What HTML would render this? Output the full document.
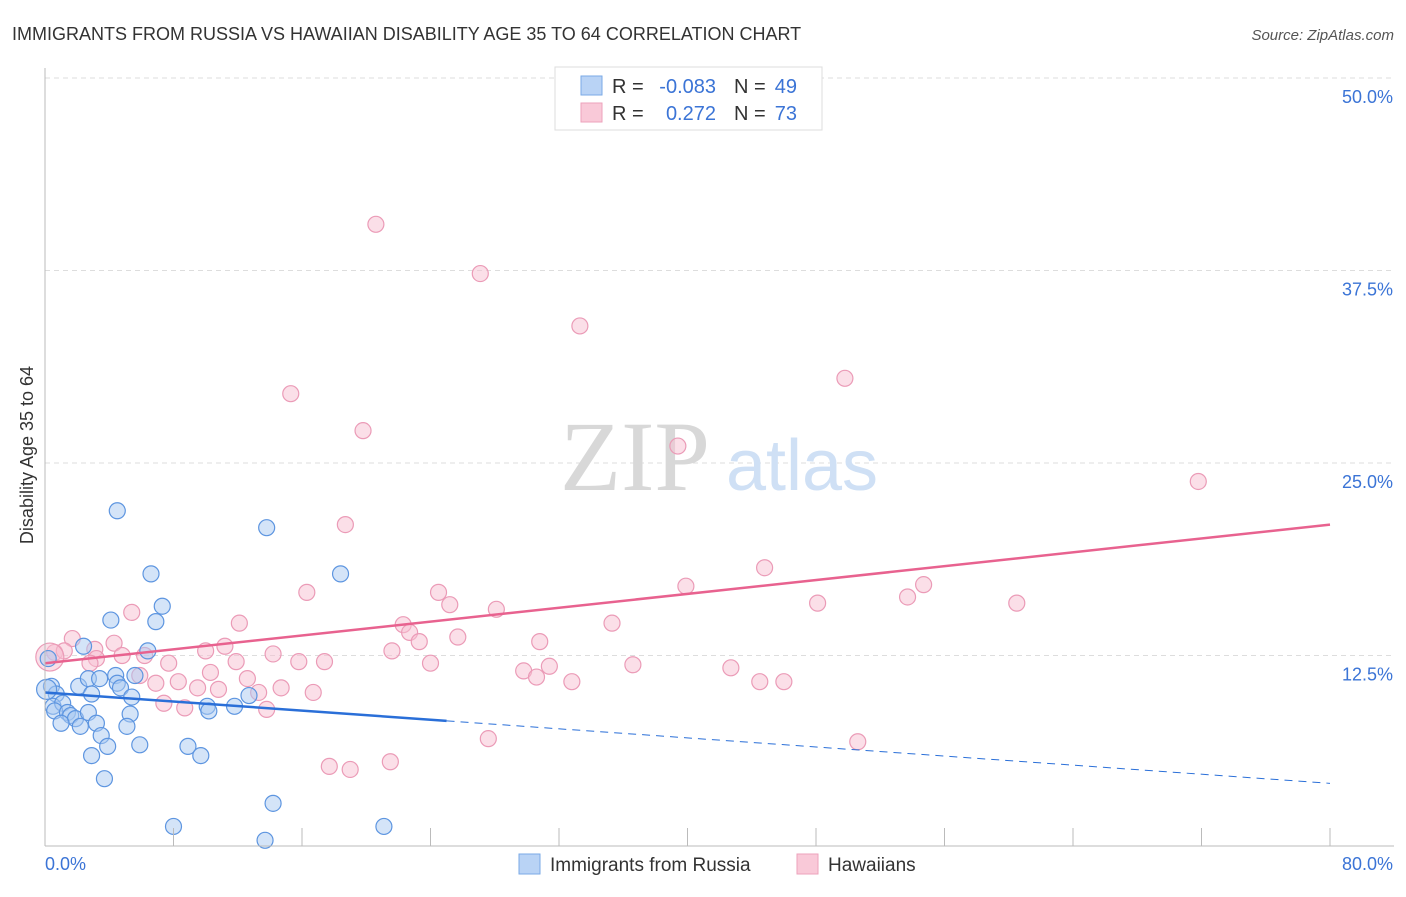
<!DOCTYPE html>
<html><head><meta charset="utf-8"><style>
body{margin:0;background:#fff;font-family:"Liberation Sans",sans-serif;}
svg text{font-family:"Liberation Sans",sans-serif;}
</style></head><body>
<svg id="chart" width="1406" height="892" xmlns="http://www.w3.org/2000/svg">
<text x="12" y="40" font-size="18" fill="#333">IMMIGRANTS FROM RUSSIA VS HAWAIIAN DISABILITY AGE 35 TO 64 CORRELATION CHART</text>
<text x="1394" y="40" font-size="15" fill="#555" font-style="italic" text-anchor="end">Source: ZipAtlas.com</text>
<text transform="translate(33,455) rotate(-90)" font-size="18" fill="#333" text-anchor="middle">Disability Age 35 to 64</text>
<g id="grid"></g>
<g>
<text x="635" y="490" font-size="100" fill="#d8d8d8" text-anchor="middle" style="font-family:'Liberation Serif',serif">ZIP</text>
<text x="802" y="490" font-size="72" fill="#cfe0f5" text-anchor="middle">atlas</text>
</g>
<g id="pts"></g>
<g id="lines"></g>
<g id="axes"></g>
<g>
<rect x="555" y="67" width="267" height="63" fill="#fff" stroke="#ddd"/>
<rect x="581" y="76" width="21" height="19" fill="#b9d3f5" stroke="#7aa9e6"/>
<rect x="581" y="103" width="21" height="19" fill="#f9c9d8" stroke="#eda2bb"/>
<text x="612" y="93" font-size="20" fill="#333">R =</text>
<text x="716" y="93" font-size="20" fill="#3b74d6" text-anchor="end">-0.083</text>
<text x="734" y="93" font-size="20" fill="#333">N =</text>
<text x="797" y="93" font-size="20" fill="#3b74d6" text-anchor="end">49</text>
<text x="612" y="120" font-size="20" fill="#333">R =</text>
<text x="716" y="120" font-size="20" fill="#3b74d6" text-anchor="end">0.272</text>
<text x="734" y="120" font-size="20" fill="#333">N =</text>
<text x="797" y="120" font-size="20" fill="#3b74d6" text-anchor="end">73</text>
</g>
<g>
<rect x="519" y="854" width="21" height="20" fill="#b9d3f5" stroke="#7aa9e6"/>
<text x="550" y="871" font-size="19" fill="#333">Immigrants from Russia</text>
<rect x="797" y="854" width="21" height="20" fill="#f9c9d8" stroke="#eda2bb"/>
<text x="828" y="871" font-size="19" fill="#333">Hawaiians</text>
</g>
</svg>
<script>
const yTicks=[12.5,25,37.5,50];
const yTickLabels=["12.5%","25.0%","37.5%","50.0%"];
const xTicks=[0,8,16,24,32,40,48,56,64,72,80];
const blueX=[4.5,13.8,6.6,18.4,7.3,4.1,6.9,6.4,2.4,0.2,0.4,0.7,2.1,2.7,3.4,4.4,4.5,4.7,5.6,2.9,5.4,12.7,0.5,1.1,0.6,1.4,1.6,1.9,2.7,3.2,1.0,2.2,5.3,5.1,10.1,10.2,11.8,3.5,3.9,5.9,2.9,8.9,9.7,3.7,14.2,8.0,21.1,13.7,0.1];
const blueY=[21.9,20.8,17.8,17.8,15.7,14.8,14.7,12.8,13.1,12.3,10.5,10.0,10.5,11.0,11.0,11.2,10.7,10.4,11.2,10.0,9.8,9.9,9.2,9.4,8.9,8.8,8.6,8.4,8.8,8.1,8.1,7.9,8.7,7.9,9.2,8.9,9.2,7.3,6.6,6.7,6.0,6.6,6.0,4.5,2.9,1.4,1.4,0.5,10.3];
const pinkX=[20.6,27.1,33.3,49.8,15.3,19.8,39.4,71.8,18.7,44.8,39.9,54.7,53.7,48.1,60.5,16.3,24.5,25.2,28.1,5.4,12.1,22.3,22.7,23.3,25.7,30.8,35.3,1.7,4.3,11.2,10.0,0.6,1.2,3.1,4.8,3.2,6.2,14.2,21.6,2.8,7.7,11.9,15.8,17.4,24.0,36.6,29.8,31.4,30.6,42.7,10.3,5.9,6.9,8.3,12.6,32.8,44.5,46.0,9.5,10.8,14.7,13.3,16.7,7.4,8.7,13.8,27.6,50.6,17.7,19.0,21.5,0.3];
const pinkY=[40.5,37.3,33.9,30.5,29.5,27.1,26.1,23.8,21.0,18.2,17.0,17.1,16.3,15.9,15.9,16.6,16.6,15.8,15.5,15.3,14.6,14.5,14.0,13.4,13.7,13.4,14.6,13.6,13.3,13.1,12.8,12.7,12.8,12.9,12.5,12.3,12.5,12.6,12.8,12.0,12.0,12.1,12.1,12.1,12.0,11.9,11.5,11.8,11.1,11.7,11.4,11.2,10.7,10.8,11.0,10.8,10.8,10.8,10.4,10.3,10.4,10.1,10.1,9.4,9.1,9.0,7.1,6.9,5.3,5.1,5.6,12.4];
const blueTrend=[10.1,4.2];
const pinkTrend=[12.0,21.0];
const blueSolidEnd=25;
const NS="http://www.w3.org/2000/svg";
const sx=v=>45+v/80*1285;
const sy=v=>848-v/12.5*192.5;
function mk(tag,attrs,parent){const e=document.createElementNS(NS,tag);for(const k in attrs)e.setAttribute(k,attrs[k]);parent.appendChild(e);return e;}
const grid=document.getElementById('grid');
yTicks.forEach((t,i)=>{
 const l=mk('line',{x1:45,x2:1394,y1:sy(t),y2:sy(t),stroke:'#ddd','stroke-dasharray':'5,4'},grid);
 
 
 const tx=mk('text',{x:1393,y:sy(t)+25,'font-size':18,fill:'#3b74d6','text-anchor':'end'},grid);
 tx.textContent=yTickLabels[i];
 
 
});
const axes=document.getElementById('axes');
mk('line',{x1:45,x2:45,y1:68,y2:846,stroke:'#bbb'},axes);
mk('line',{x1:45,x2:1394,y1:846,y2:846,stroke:'#bbb'},axes);
xTicks.forEach(t=>{const l=mk('line',{x1:sx(t),x2:sx(t),y1:828,y2:846,stroke:'#bbb'},axes);
 
 });
let a=mk('text',{x:45,y:870,'font-size':18,fill:'#3b74d6'},axes);a.textContent='0.0%';


a=mk('text',{x:1393,y:870,'font-size':18,fill:'#3b74d6','text-anchor':'end'},axes);a.textContent='80.0%';


const pts=document.getElementById('pts');
pinkX.forEach((x,i)=>{const big=i===pinkX.length-1;const c=mk('circle',{cx:sx(x),cy:sy(pinkY[i]),r:big?14:8,fill:'#f7bfd2','fill-opacity':0.5,stroke:'#eb9bb7','stroke-width':1.2},pts);
 
 });
blueX.forEach((x,i)=>{const big=i===blueX.length-1;const c=mk('circle',{cx:sx(x),cy:sy(blueY[i]),r:big?10:8,fill:'#a9c9f2','fill-opacity':0.5,stroke:'#5d95e0','stroke-width':1.2},pts);
 
 });
const lines=document.getElementById('lines');
const bAt=v=>blueTrend[0]+(blueTrend[1]-blueTrend[0])*v/80;
let l=mk('line',{x1:sx(0),y1:sy(pinkTrend[0]),x2:sx(80),y2:sy(pinkTrend[1]),stroke:'#e8628f','stroke-width':2.5},lines);


l=mk('line',{x1:sx(0),y1:sy(bAt(0)),x2:sx(blueSolidEnd),y2:sy(bAt(blueSolidEnd)),stroke:'#2a6fd8','stroke-width':2.5},lines);


l=mk('line',{x1:sx(blueSolidEnd),y1:sy(bAt(blueSolidEnd)),x2:sx(80),y2:sy(bAt(80)),stroke:'#2a6fd8','stroke-width':1,'stroke-dasharray':'8,6'},lines);


</script>
</body></html>
